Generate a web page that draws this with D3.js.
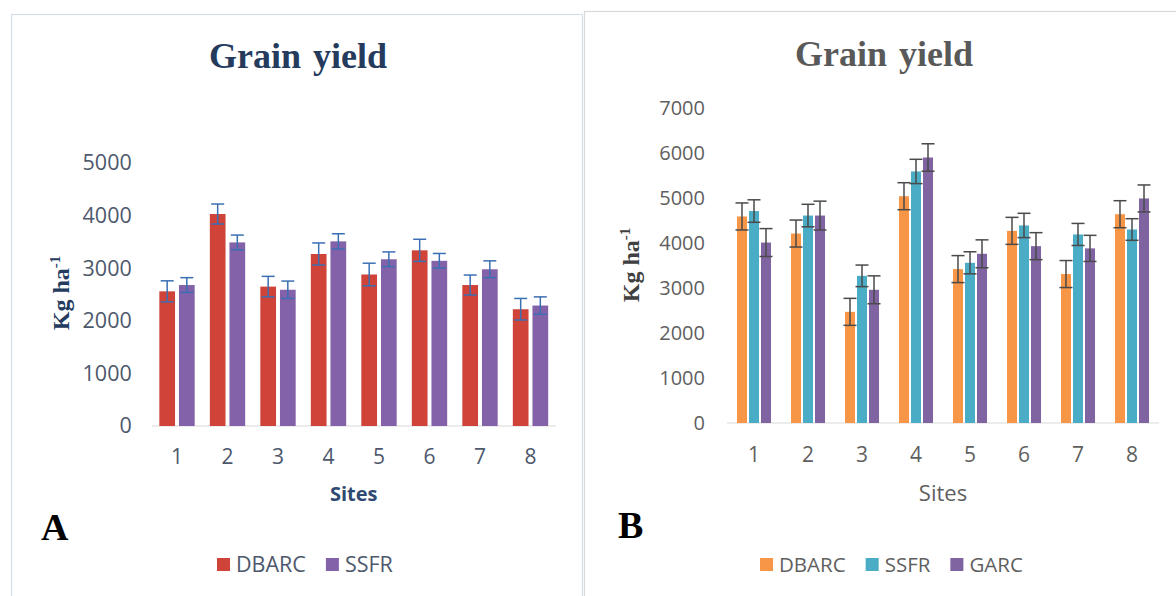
<!DOCTYPE html>
<html>
<head>
<meta charset="utf-8">
<script src="https://cdn.jsdelivr.net/npm/d3@7"></script>
<style>
  html, body { margin: 0; padding: 0; background: #ffffff; }
  svg { display: block; }
</style>
</head>
<body>
<svg id="chart" width="1176" height="596"></svg>
<script>
// Sites on the x axis
const sites = ["1", "2", "3", "4", "5", "6", "7", "8"];

// Panel A: grain yield (kg/ha) for two sources, with error margins
const seriesA = ["DBARC", "SSFR"];
const dbarcA = [2560, 4030, 2650, 3270, 2880, 3340, 2680, 2220];
const ssfrA  = [2680, 3490, 2590, 3510, 3170, 3140, 2980, 2290];
const dbarcAErr = [200, 190, 195, 210, 215, 210, 190, 205];
const ssfrAErr  = [140, 140, 165, 145, 140, 140, 160, 165];
const ticksA = [0, 1000, 2000, 3000, 4000, 5000];

// Panel B: grain yield (kg/ha) for three sources, with error margins
const seriesB = ["DBARC", "SSFR", "GARC"];
const dbarcB = [4590, 4210, 2470, 5040, 3420, 4270, 3310, 4640];
const ssfrB  = [4710, 4610, 3270, 5590, 3560, 4390, 4190, 4300];
const garcB  = [4010, 4610, 2960, 5900, 3760, 3930, 3880, 4990];
const dbarcBErr = [300, 300, 300, 300, 300, 300, 300, 300];
const ssfrBErr  = [250, 250, 240, 270, 245, 270, 245, 240];
const garcBErr  = [310, 320, 310, 305, 310, 300, 290, 300];
const ticksB = [0, 1000, 2000, 3000, 4000, 5000, 6000, 7000];

const svg = d3.select("#chart");
const SANS = "'Open Sans', 'DejaVu Sans', sans-serif";
const SERIF = "'Liberation Serif', 'Times New Roman', serif";

function buildRows(names, values, errors) {
  return sites.map((s, i) => ({
    site: s,
    bars: names.map((n, k) => ({ key: n, value: values[k][i], err: errors[k][i] }))
  }));
}

function drawPanel(p) {
  const g = svg.append("g");

  // frame
  g.append("rect")
    .attr("x", p.frame[0]).attr("y", p.frame[1])
    .attr("width", p.frame[2]).attr("height", p.frame[3])
    .attr("fill", "#ffffff").attr("stroke", p.frameColor).attr("stroke-width", 1.2);

  const x0 = d3.scaleBand().domain(sites).range(p.xRange)
    .paddingInner(p.groupPad).paddingOuter(p.groupPad / 2);
  const x1 = d3.scaleBand().domain(p.series).range([0, x0.bandwidth()])
    .paddingInner(p.barPad);
  const y = d3.scaleLinear().domain([0, p.yMax]).range(p.yRange);
  const color = d3.scaleOrdinal().domain(p.series).range(p.colors);

  // title
  g.append("text")
    .attr("x", p.titleX).attr("y", p.titleY)
    .attr("text-anchor", "middle")
    .attr("font-family", SERIF).attr("font-weight", "bold")
    .attr("font-size", 36).attr("fill", p.titleColor)
    .attr("word-spacing", 3)
    .text("Grain yield");

  // y axis labels
  const yAxis = g.append("g")
    .attr("transform", `translate(${p.xRange[0]},0)`)
    .call(d3.axisLeft(y).tickValues(p.ticks).tickSize(0).tickPadding(p.yPad).tickFormat(d3.format("d")));
  yAxis.select(".domain").remove();
  yAxis.selectAll("text")
    .attr("font-family", SANS).attr("font-size", p.tickSize).attr("fill", p.tickColor);

  // baseline
  g.append("line")
    .attr("x1", p.xRange[0]).attr("x2", p.xRange[1])
    .attr("y1", y(0)).attr("y2", y(0))
    .attr("stroke", "#d9d9d9").attr("stroke-width", 1.2);

  // bars
  const groups = g.selectAll(".site")
    .data(p.rows).join("g")
    .attr("class", "site")
    .attr("transform", d => `translate(${x0(d.site)},0)`);

  groups.selectAll("rect")
    .data(d => d.bars).join("rect")
    .attr("x", d => x1(d.key))
    .attr("width", x1.bandwidth())
    .attr("y", d => y(d.value))
    .attr("height", d => y(0) - y(d.value))
    .attr("fill", d => color(d.key));

  // error bars
  const cap = p.capWidth / 2;
  const eb = groups.selectAll(".err")
    .data(d => d.bars).join("g")
    .attr("class", "err")
    .attr("stroke", p.errColor).attr("stroke-width", 1.5);
  eb.append("line")
    .attr("x1", d => x1(d.key) + x1.bandwidth() / 2)
    .attr("x2", d => x1(d.key) + x1.bandwidth() / 2)
    .attr("y1", d => y(d.value + d.err))
    .attr("y2", d => y(d.value - d.err));
  eb.append("line")
    .attr("x1", d => x1(d.key) + x1.bandwidth() / 2 - cap)
    .attr("x2", d => x1(d.key) + x1.bandwidth() / 2 + cap)
    .attr("y1", d => y(d.value + d.err))
    .attr("y2", d => y(d.value + d.err));
  eb.append("line")
    .attr("x1", d => x1(d.key) + x1.bandwidth() / 2 - cap)
    .attr("x2", d => x1(d.key) + x1.bandwidth() / 2 + cap)
    .attr("y1", d => y(d.value - d.err))
    .attr("y2", d => y(d.value - d.err));

  // x axis labels
  const xAxis = g.append("g")
    .attr("transform", `translate(0,${y(0)})`)
    .call(d3.axisBottom(x0).tickSize(0).tickPadding(p.xPad));
  xAxis.select(".domain").remove();
  xAxis.selectAll("text")
    .attr("font-family", SANS).attr("font-size", 21).attr("fill", p.tickColor);

  // x axis title
  g.append("text")
    .attr("x", (p.xRange[0] + p.xRange[1]) / 2).attr("y", 501)
    .attr("text-anchor", "middle")
    .attr("font-family", SANS).attr("font-weight", p.xTitleWeight)
    .attr("font-size", p.xTitleSize).attr("fill", p.xTitleColor)
    .text("Sites");

  // y axis title
  const yt = g.append("text")
    .attr("transform", `translate(${p.yTitleX},${p.yTitleY}) rotate(-90)`)
    .attr("text-anchor", "middle")
    .attr("font-family", SERIF).attr("font-weight", "bold")
    .attr("font-size", 24).attr("fill", p.yTitleColor);
  yt.append("tspan").text("Kg ha");
  yt.append("tspan").attr("font-size", 15).attr("dy", -9).text("-1");

  // panel letter
  g.append("text")
    .attr("x", p.letterX).attr("y", p.letterY)
    .attr("font-family", SERIF).attr("font-weight", "bold")
    .attr("font-size", 38).attr("fill", "#000000")
    .text(p.letter);

  // legend
  let lx = p.legendX;
  p.series.forEach(name => {
    g.append("rect")
      .attr("x", lx).attr("y", 558).attr("width", 13).attr("height", 13)
      .attr("fill", color(name));
    const t = g.append("text")
      .attr("x", lx + 19).attr("y", 571.5)
      .attr("font-family", SANS).attr("font-size", p.legendSize).attr("fill", p.tickColor)
      .text(name);
    lx += 19 + t.node().getComputedTextLength() + 20;
  });
}

drawPanel({
  frame: [11.5, 14.5, 571, 600],
  frameColor: "#d6dde8",
  series: seriesA,
  rows: buildRows(seriesA, [dbarcA, ssfrA], [dbarcAErr, ssfrAErr]),
  colors: ["#cf4338", "#8462a9"],
  errColor: "#3b6fb3",
  xRange: [151.75, 555.75],
  groupPad: 0.3,
  barPad: 0.2,
  yMax: 5000,
  yRange: [426, 163],
  ticks: ticksA,
  tickSize: 21.5,
  legendSize: 21.5,
  yPad: 20,
  xPad: 23,
  capWidth: 13,
  titleX: 298, titleY: 68, titleColor: "#243b5e",
  tickColor: "#4d586c",
  xTitleWeight: "bold", xTitleSize: 20, xTitleColor: "#2f4a72",
  yTitleX: 69, yTitleY: 293, yTitleColor: "#243b5e",
  letter: "A", letterX: 41, letterY: 540,
  legendX: 217
});

drawPanel({
  frame: [584.5, 11.5, 620, 620],
  frameColor: "#d9d9d9",
  series: seriesB,
  rows: buildRows(seriesB, [dbarcB, ssfrB, garcB], [dbarcBErr, ssfrBErr, garcBErr]),
  colors: ["#f79646", "#4bacc6", "#8064a2"],
  errColor: "#4a4a4a",
  xRange: [727, 1159],
  groupPad: 0.37,
  barPad: 0.167,
  yMax: 7000,
  yRange: [423, 108],
  ticks: ticksB,
  tickSize: 20,
  legendSize: 20.5,
  yPad: 22,
  xPad: 24,
  capWidth: 13,
  titleX: 884, titleY: 66, titleColor: "#595959",
  tickColor: "#5f5f5f",
  xTitleWeight: "normal", xTitleSize: 22, xTitleColor: "#5f5f5f",
  yTitleX: 639, yTitleY: 265, yTitleColor: "#404040",
  letter: "B", letterX: 618, letterY: 538,
  legendX: 760
});
</script>
</body>
</html>
